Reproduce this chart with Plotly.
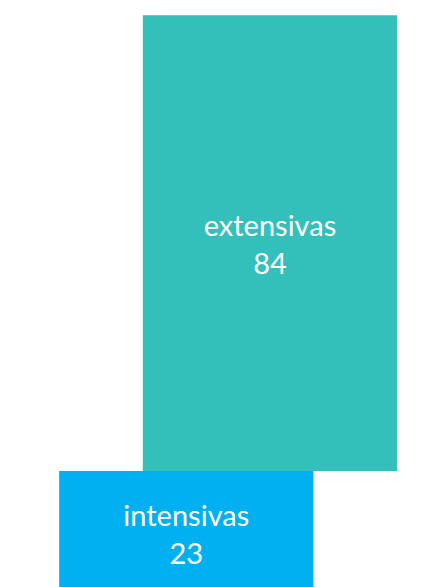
import numpy as np
import plotly.graph_objs as go

# data
categories = ["intensivas", "extensivas"]
values = [23, 84]
colors = ["#00B0F0", "#33C0BA"]

# layout helpers (bars are stacked, each one shifted right)
bar_shift = 0.329
x_pos = [i * bar_shift for i in range(len(categories))]
bases = list(np.cumsum([0] + values[:-1]))

fig = go.Figure()

fig.add_trace(go.Bar(
    x=x_pos,
    y=values,
    base=bases,
    width=1,
    marker=dict(color=colors, line=dict(width=0)),
    customdata=categories,
    texttemplate="%{customdata}<br>%{y}",
    textposition="inside",
    insidetextanchor="middle",
    textangle=0,
    textfont=dict(family="Lato, Calibri, sans-serif", size=29, color="white"),
    hoverinfo="skip",
    showlegend=False,
))

# the page body has an 8px margin, so the figure is a bit smaller than the window
fig.update_layout(
    width=421,
    height=579,
    margin=dict(l=0, r=0, t=0, b=0),
    paper_bgcolor="white",
    plot_bgcolor="white",
    xaxis=dict(range=[-0.7011, 0.9544], visible=False, fixedrange=True),
    yaxis=dict(range=[1.62, 108.35], visible=False, fixedrange=True),
)

fig.write_html("out.html", config=dict(displayModeBar=False))
